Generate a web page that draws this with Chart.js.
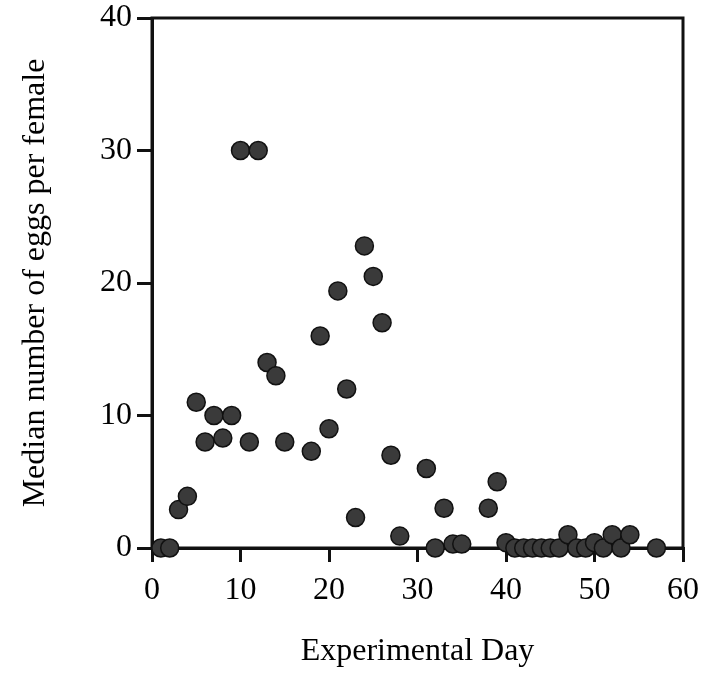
<!DOCTYPE html>
<html>
<head>
<meta charset="utf-8">
<script src="https://cdn.jsdelivr.net/npm/chart.js@4"></script>
<style>
  html, body { margin: 0; padding: 0; background: #fff; }
  #wrap { width: 703px; height: 677px; }
</style>
</head>
<body>
<div id="wrap"><canvas id="chart" width="703" height="677"></canvas></div>
<script>
// experimental day vs median eggs per female
const days = [1, 2, 3, 4, 5, 6, 7, 8, 9, 10, 11, 12, 13, 14, 15, 18, 19, 20, 21, 22, 23, 24, 25, 26, 27, 28,
  31, 32, 33, 34, 35, 38, 39, 40, 41, 42, 43, 44, 45, 46, 47, 48, 49, 50, 51, 52, 53, 54, 57];
const eggs = [0, 0, 2.9, 3.9, 11, 8, 10, 8.3, 10, 30, 8, 30, 14, 13, 8, 7.3, 16, 9, 19.4, 12, 2.3, 22.8, 20.5, 17, 7, 0.9,
  6, 0, 3, 0.3, 0.3, 3, 5, 0.4, 0, 0, 0, 0, 0, 0, 1, 0, 0, 0.4, 0, 1, 0, 1, 0];
const xTicks = [0, 10, 20, 30, 40, 50, 60];
const yTicks = [0, 10, 20, 30, 40];

Chart.defaults.font.family = "'Liberation Serif', 'Times New Roman', serif";
Chart.defaults.color = "#000";

// box around the plot, drawn under the dots
const frame = {
  id: "frame",
  beforeDatasetsDraw(chart) {
    const { ctx, chartArea: a } = chart;
    ctx.save();
    ctx.strokeStyle = "#111";
    ctx.lineWidth = 3;
    ctx.strokeRect(a.left, a.top, a.right - a.left, a.bottom - a.top);
    ctx.restore();
  },
};

const points = days.map((d, i) => ({ x: d, y: eggs[i] }));

new Chart(document.getElementById("chart"), {
  type: "scatter",
  data: {
    datasets: [
      {
        data: points,
        pointRadius: 9,
        pointHoverRadius: 9,
        backgroundColor: "#3a3a3a",
        borderColor: "#111",
        borderWidth: 1.5,
        clip: false,
      },
    ],
  },
  options: {
    responsive: false,
    animation: false,
    layout: { padding: { left: 0, right: 20, top: 18, bottom: 0 } },
    plugins: { legend: { display: false }, tooltip: { enabled: false } },
    scales: {
      x: {
        type: "linear",
        min: 0,
        max: 60,
        afterFit(scale) {
          scale.height = 129;
          scale.paddingLeft = 0;
          scale.paddingRight = 0;
        },
        afterBuildTicks(scale) { scale.ticks = xTicks.map((v) => ({ value: v })); },
        border: { display: true, width: 3, color: "#111" },
        grid: { display: true, drawOnChartArea: false, drawTicks: true, tickLength: 14, lineWidth: 3, color: "#111" },
        ticks: { font: { size: 32 }, padding: 9, maxRotation: 0 },
        title: { display: true, text: "Experimental Day", font: { size: 32 }, padding: { top: 0, bottom: 6 } },
      },
      y: {
        type: "linear",
        min: 0,
        max: 40,
        afterFit(scale) {
          scale.width = 152;
          scale.paddingTop = 0;
          scale.paddingBottom = 0;
        },
        afterBuildTicks(scale) { scale.ticks = yTicks.map((v) => ({ value: v })); },
        border: { display: true, width: 3, color: "#111" },
        grid: { display: true, drawOnChartArea: false, drawTicks: true, tickLength: 15, lineWidth: 3, color: "#111" },
        ticks: { font: { size: 32 }, padding: 5 },
        title: { display: true, text: "Median number of eggs per female", font: { size: 32 }, padding: { top: 16, bottom: 0 } },
      },
    },
  },
  plugins: [frame],
});
</script>
</body>
</html>
